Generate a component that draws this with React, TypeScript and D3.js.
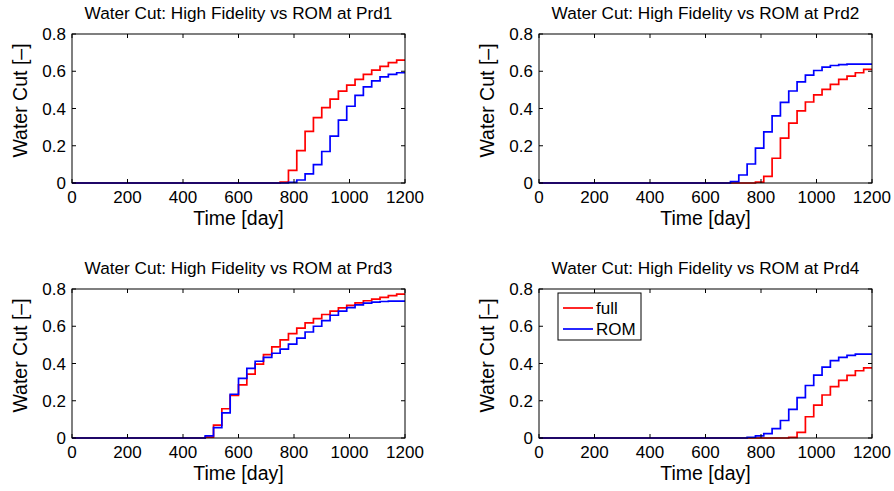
import React from "react";
import * as d3 from "d3";

const days = [0, 30, 60, 90, 120, 150, 180, 210, 240, 270, 300, 330, 360, 390, 420, 450, 480, 510, 540, 570, 600, 630, 660, 690, 720, 750, 780, 810, 840, 870, 900, 930, 960, 990, 1020, 1050, 1080, 1110, 1140, 1170, 1200];

const xTicks = [0, 200, 400, 600, 800, 1000, 1200];
const yTicks = [0, 0.2, 0.4, 0.6, 0.8];
const yTickLabels = ["0", "0.2", "0.4", "0.6", "0.8"];
const wells = ["Prd1", "Prd2", "Prd3", "Prd4"];
const seriesNames = ["full", "ROM"];

const prd1Full = [0, 0, 0, 0, 0, 0, 0, 0, 0, 0, 0, 0, 0, 0, 0, 0, 0, 0, 0, 0, 0, 0, 0, 0, 0,
  0.005, 0.068, 0.174, 0.277, 0.351, 0.405, 0.45, 0.493, 0.525, 0.556, 0.583, 0.606, 0.626, 0.646, 0.66];
const prd1Rom = [0, 0, 0, 0, 0, 0, 0, 0, 0, 0, 0, 0, 0, 0, 0, 0, 0, 0, 0, 0, 0, 0, 0, 0, 0, 0,
  0.003, 0.016, 0.049, 0.099, 0.169, 0.252, 0.338, 0.412, 0.471, 0.516, 0.548, 0.57, 0.583, 0.592];
const prd2Full = [0, 0, 0, 0, 0, 0, 0, 0, 0, 0, 0, 0, 0, 0, 0, 0, 0, 0, 0, 0, 0, 0, 0, 0, 0, 0,
  0.005, 0.036, 0.133, 0.241, 0.322, 0.387, 0.435, 0.473, 0.503, 0.529, 0.556, 0.574, 0.592, 0.61];
const prd2Rom = [0, 0, 0, 0, 0, 0, 0, 0, 0, 0, 0, 0, 0, 0, 0, 0, 0, 0, 0, 0, 0, 0, 0,
  0.007, 0.043, 0.102, 0.187, 0.275, 0.36, 0.433, 0.494, 0.543, 0.579, 0.604, 0.622, 0.631, 0.636, 0.638, 0.638, 0.638];
const prd3Full = [0, 0, 0, 0, 0, 0, 0, 0, 0, 0, 0, 0, 0, 0, 0, 0,
  0.005, 0.069, 0.157, 0.229, 0.285, 0.343, 0.397, 0.448, 0.489, 0.527, 0.56, 0.59, 0.618, 0.641, 0.663, 0.681, 0.699, 0.712, 0.726, 0.737, 0.746, 0.755, 0.764, 0.773];
const prd3Rom = [0, 0, 0, 0, 0, 0, 0, 0, 0, 0, 0, 0, 0, 0, 0, 0,
  0.011, 0.056, 0.135, 0.235, 0.32, 0.374, 0.412, 0.433, 0.455, 0.477, 0.504, 0.536, 0.569, 0.6, 0.63, 0.659, 0.681, 0.7, 0.715, 0.724, 0.73, 0.733, 0.735, 0.735];
const prd4Full = [0, 0, 0, 0, 0, 0, 0, 0, 0, 0, 0, 0, 0, 0, 0, 0, 0, 0, 0, 0, 0, 0, 0, 0, 0, 0, 0, 0, 0, 0,
  0.003, 0.03, 0.114, 0.177, 0.231, 0.276, 0.309, 0.336, 0.361, 0.377];
const prd4Rom = [0, 0, 0, 0, 0, 0, 0, 0, 0, 0, 0, 0, 0, 0, 0, 0, 0, 0, 0, 0, 0, 0, 0, 0, 0,
  0.004, 0.011, 0.023, 0.05, 0.094, 0.154, 0.217, 0.282, 0.338, 0.381, 0.415, 0.433, 0.444, 0.45, 0.45];

const fullSeries = [prd1Full, prd2Full, prd3Full, prd4Full];
const romSeries = [prd1Rom, prd2Rom, prd3Rom, prd4Rom];

const W = 894;
const H = 491;
const FONT = "'Liberation Sans', Arial, Helvetica, sans-serif";
const panelPos = [
  { left: 72, top: 34 },
  { left: 539, top: 34 },
  { left: 72, top: 289 },
  { left: 539, top: 289 },
];
const PW = 333;
const PH = 149;
const TICK = 4;
const COLORS = ["#ff0000", "#0000ff"];

function toPoints(vals: number[]) {
  return days.map((d, i) => ({ t: d, v: vals[Math.min(i, vals.length - 1)] }));
}

function Panel({ idx }: { idx: number }) {
  const { left, top } = panelPos[idx];
  const x = d3.scaleLinear().domain([0, 1200]).range([left, left + PW]);
  const y = d3.scaleLinear().domain([0, 0.8]).range([top + PH, top]);
  const line = d3
    .line<{ t: number; v: number }>()
    .x((d) => x(d.t))
    .y((d) => y(d.v))
    .curve(d3.curveStepAfter);
  const series = [fullSeries[idx], romSeries[idx]];
  const bottom = top + PH;
  const right = left + PW;
  return (
    <g>
      {series.map((s, i) => (
        <path key={i} d={line(toPoints(s)) || ""} fill="none" stroke={COLORS[i]} strokeWidth={1.7} />
      ))}
      <rect x={left} y={top} width={PW} height={PH} fill="none" stroke="#000" strokeWidth={1} />
      {xTicks.map((t) => (
        <g key={"x" + t}>
          <line x1={x(t)} x2={x(t)} y1={bottom} y2={bottom - TICK} stroke="#000" />
          <line x1={x(t)} x2={x(t)} y1={top} y2={top + TICK} stroke="#000" />
          <text x={x(t)} y={bottom + 20} textAnchor="middle" fontSize={17} fontFamily={FONT} fill="#000">
            {t}
          </text>
        </g>
      ))}
      {yTicks.map((t, i) => (
        <g key={"y" + t}>
          <line x1={left} x2={left + TICK} y1={y(t)} y2={y(t)} stroke="#000" />
          <line x1={right} x2={right - TICK} y1={y(t)} y2={y(t)} stroke="#000" />
          <text x={left - 6} y={y(t)} dy="0.36em" textAnchor="end" fontSize={17} fontFamily={FONT} fill="#000">
            {yTickLabels[i]}
          </text>
        </g>
      ))}
      <text x={(left + right) / 2} y={top - 15} textAnchor="middle" fontSize={17.2} fontFamily={FONT} fill="#000">
        {`Water Cut: High Fidelity vs ROM at ${wells[idx]}`}
      </text>
      <text x={(left + right) / 2} y={bottom + 42} textAnchor="middle" fontSize={19.5} fontFamily={FONT} fill="#000">
        Time [day]
      </text>
      <text
        transform={`translate(${left - 45},${top + PH / 2 - 8}) rotate(-90)`}
        textAnchor="middle"
        fontSize={19.5}
        fontFamily={FONT}
        fill="#000"
      >
        Water Cut [–]
      </text>
    </g>
  );
}

function Legend() {
  const lx = 558;
  const ly = 293;
  return (
    <g>
      <rect x={lx} y={ly} width={83} height={47} fill="#fff" stroke="#000" strokeWidth={1} />
      {seriesNames.map((n, i) => (
        <g key={n}>
          <line x1={lx + 5} x2={lx + 35} y1={ly + 15 + i * 21} y2={ly + 15 + i * 21} stroke={COLORS[i]} strokeWidth={1.7} />
          <text x={lx + 38} y={ly + 15 + i * 21} dy="0.36em" fontSize={17} fontFamily={FONT} fill="#000">
            {n}
          </text>
        </g>
      ))}
    </g>
  );
}

export default function App() {
  return (
    <svg width={W} height={H} style={{ position: "absolute", left: 0, top: 0, background: "#fff" }}>
      <rect x={0} y={0} width={W} height={H} fill="#fff" />
      {[0, 1, 2, 3].map((i) => (
        <Panel key={i} idx={i} />
      ))}
      <Legend />
    </svg>
  );
}
